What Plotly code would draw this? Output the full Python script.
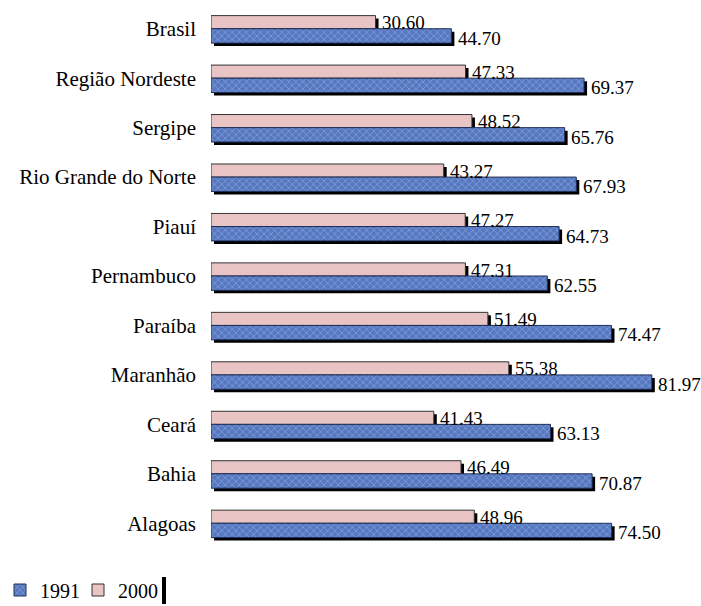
import plotly.graph_objects as go

categories = ["Brasil", "Região Nordeste", "Sergipe", "Rio Grande do Norte", "Piauí",
              "Pernambuco", "Paraíba", "Maranhão", "Ceará", "Bahia", "Alagoas"]
v1991 = [44.70, 69.37, 65.76, 67.93, 64.73, 62.55, 74.47, 81.97, 63.13, 70.87, 74.50]
v2000 = [30.60, 47.33, 48.52, 43.27, 47.27, 47.31, 51.49, 55.38, 41.43, 46.49, 48.96]
labels1991 = [f"{v:.2f}" for v in v1991]
labels2000 = [f"{v:.2f}" for v in v2000]

FONT = "Liberation Serif"
W, H = 701, 606
ML, MR, MT, MB = 211, 6, 4, 58
XMAX = 90
px_per_unit = (W - ML - MR) / XMAX
px_per_cat = (H - MT - MB) / len(categories)
sx = 3 / px_per_unit   # shadow offset in x units
sy = 3 / px_per_cat    # shadow offset in category units

w_pink, w_blue = 0.265, 0.29
pink = "#e8c4c4"
blue = "#5678c0"

fig = go.Figure()
# shadows
fig.add_trace(go.Bar(y=categories, x=v2000, base=sx, orientation="h",
                     offset=-w_pink + sy, width=w_pink,
                     marker=dict(color="black", line=dict(width=0)),
                     showlegend=False, hoverinfo="skip"))
fig.add_trace(go.Bar(y=categories, x=v1991, base=sx, orientation="h",
                     offset=sy, width=w_blue,
                     marker=dict(color="black", line=dict(width=0)),
                     showlegend=False, hoverinfo="skip"))
# main bars
fig.add_trace(go.Bar(y=categories, x=v2000, name="2000", orientation="h",
                     offset=-w_pink, width=w_pink, legend="legend2",
                     marker=dict(color=pink, line=dict(color="#333333", width=1))))
fig.add_trace(go.Bar(y=categories, x=v1991, name="1991", orientation="h",
                     offset=0, width=w_blue, legend="legend",
                     marker=dict(color=blue, line=dict(color="#1f2f5a", width=1),
                                 pattern=dict(shape="x", fgcolor="#aec2ec", bgcolor=blue,
                                              size=5, solidity=0.3))))

annotations = []
for i, cat in enumerate(categories):
    annotations.append(dict(x=v2000[i], y=i, xref="x", yref="y", text=labels2000[i],
                            showarrow=False, xanchor="left", yanchor="middle",
                            xshift=4, yshift=6,
                            font=dict(family=FONT, size=19, color="black")))
    annotations.append(dict(x=v1991[i], y=i, xref="x", yref="y", text=labels1991[i],
                            showarrow=False, xanchor="left", yanchor="middle",
                            xshift=4.5, yshift=-9.5,
                            font=dict(family=FONT, size=19, color="black")))

plot_h = H - MT - MB
plot_w = W - ML - MR
def px_to_paper_x(px):
    return (px - ML) / plot_w
def px_to_paper_y(py):
    return (H - MB - py) / plot_h

legend_common = dict(orientation="h", xref="container", yref="container",
                     xanchor="left", y=1 - 590 / H, yanchor="middle",
                     font=dict(family=FONT, size=20, color="black"),
                     bgcolor="rgba(0,0,0,0)", itemwidth=30)

fig.update_layout(
    width=W, height=H,
    margin=dict(l=ML, r=MR, t=MT, b=MB, pad=0, autoexpand=False),
    paper_bgcolor="white", plot_bgcolor="white",
    barmode="overlay",
    font=dict(family=FONT, size=20, color="black"),
    xaxis=dict(range=[0, XMAX], visible=False, fixedrange=True),
    yaxis=dict(type="category", categoryorder="array", categoryarray=categories,
               autorange="reversed", showgrid=False, zeroline=False,
               showline=False, ticks="", ticklabelstandoff=14, automargin=False,
               tickfont=dict(family=FONT, size=21, color="black")),
    legend=dict(x=0, **legend_common),
    legend2=dict(x=78 / W, **legend_common),
    annotations=annotations,
    shapes=[dict(type="rect", xref="paper", yref="paper",
                 x0=px_to_paper_x(162), x1=px_to_paper_x(166),
                 y0=px_to_paper_y(604), y1=px_to_paper_y(577),
                 fillcolor="black", line=dict(width=0))],
)

fig.write_html("out.html")
